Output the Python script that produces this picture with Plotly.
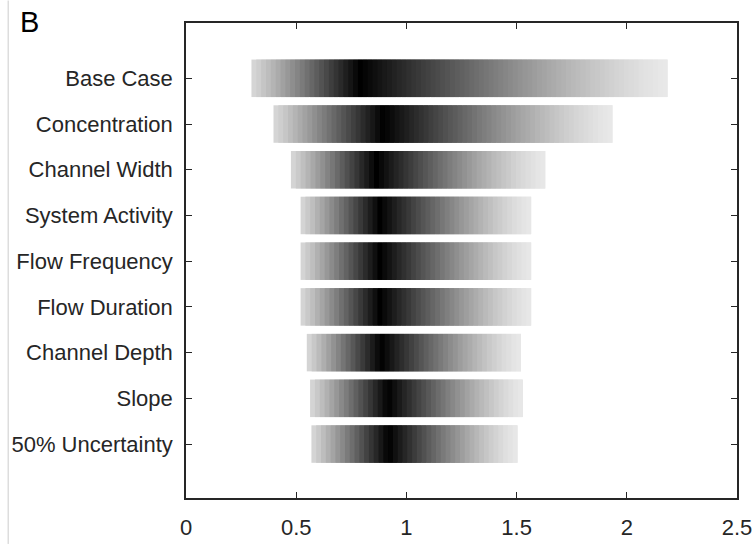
import numpy as np
import plotly.graph_objects as go

# ---- data ----
categories = ["Base Case", "Concentration", "Channel Width", "System Activity",
              "Flow Frequency", "Flow Duration", "Channel Depth", "Slope",
              "50% Uncertainty"]
low_vals  = [0.297, 0.397, 0.476, 0.520, 0.520, 0.520, 0.548, 0.563, 0.569]
mode_vals = [0.790, 0.895, 0.864, 0.880, 0.880, 0.880, 0.885, 0.918, 0.920]
high_vals = [2.185, 1.935, 1.630, 1.566, 1.566, 1.566, 1.520, 1.528, 1.504]
x_ticks = [0, 0.5, 1, 1.5, 2, 2.5]
x_tick_labels = ["0", "0.5", "1", "1.5", "2", "2.5"]

# ---- style ----
W, H = 755, 544
ML, MR, MT, MB = 186, 17.5, 22.5, 46
FONT = "Liberation Sans, Arial, Helvetica, sans-serif"
AX = "#262626"
BAND = 0.022         # width of each shading band (x units)
BAR_H = 0.82         # bar thickness (category units)
EDGE_L, EDGE_R = 0.85, 0.91   # lightness at bar ends
P_L, P_R = 1.1, 1.35          # shading curve shape


def grey(v):
    g = int(round(255 * float(v)))
    return f"rgb({g},{g},{g})"


fig = go.Figure()
for i, (lo, md, hi) in enumerate(zip(low_vals, mode_vals, high_vals)):
    n = max(int(round((hi - lo) / BAND)), 1)
    edges = np.linspace(lo, hi, n + 1)
    step = edges[1] - edges[0]
    centers = 0.5 * (edges[:-1] + edges[1:])
    tl = np.clip((md - centers) / (md - lo), 0, 1)
    tr = np.clip((centers - md) / (hi - md), 0, 1)
    shade = np.where(
        centers < md,
        EDGE_L * (1 - (1 - tl) ** P_L),
        EDGE_R * (1 - (1 - tr) ** P_R),
    )
    cols = [grey(s) for s in shade]
    # each band slightly overlaps the next one (drawn on top) to avoid seams
    widths = np.minimum(2 * step, hi - edges[:-1])
    fig.add_trace(go.Bar(
        orientation="h",
        y=[i] * n, x=widths, base=edges[:-1],
        width=BAR_H,
        marker=dict(color=cols, line=dict(width=0)),
        hoverinfo="skip",
    ))

plot_w = W - ML - MR
plot_h = H - MT - MB


def px_x(p):
    return (p - ML) / plot_w


def px_y(p):
    return (H - MB - p) / plot_h


fig.add_annotation(text="B", xref="paper", yref="paper",
                   x=px_x(18), y=px_y(21), xanchor="left", yanchor="middle",
                   showarrow=False, font=dict(family=FONT, size=29, color="#000000"))

fig.add_shape(type="line", xref="paper", yref="paper",
              x0=px_x(8), x1=px_x(8), y0=px_y(H), y1=px_y(0),
              line=dict(color="#cccccc", width=1))

fig.update_layout(
    template="none",
    width=W, height=H,
    margin=dict(l=ML, r=MR, t=MT, b=MB, pad=0, autoexpand=False),
    paper_bgcolor="white", plot_bgcolor="white",
    font=dict(family=FONT, size=22, color=AX),
    showlegend=False,
    barmode="overlay",
    xaxis=dict(range=[0, 2.5], tickvals=x_ticks, ticktext=x_tick_labels,
               ticks="inside", ticklen=6, tickwidth=1.3, tickcolor=AX,
               showline=True, linecolor=AX, linewidth=1.5, mirror="ticks",
               showgrid=False, zeroline=False, ticklabelstandoff=9,
               automargin=False,
               tickfont=dict(family=FONT, size=22, color=AX)),
    yaxis=dict(range=[9.18, -1.21], tickvals=list(range(len(categories))),
               ticktext=categories,
               ticks="inside", ticklen=6, tickwidth=1.3, tickcolor=AX,
               showline=True, linecolor=AX, linewidth=1.5, mirror="ticks",
               showgrid=False, zeroline=False, ticklabelstandoff=7,
               automargin=False,
               tickfont=dict(family=FONT, size=22, color=AX)),
)

fig.write_html("out.html")
